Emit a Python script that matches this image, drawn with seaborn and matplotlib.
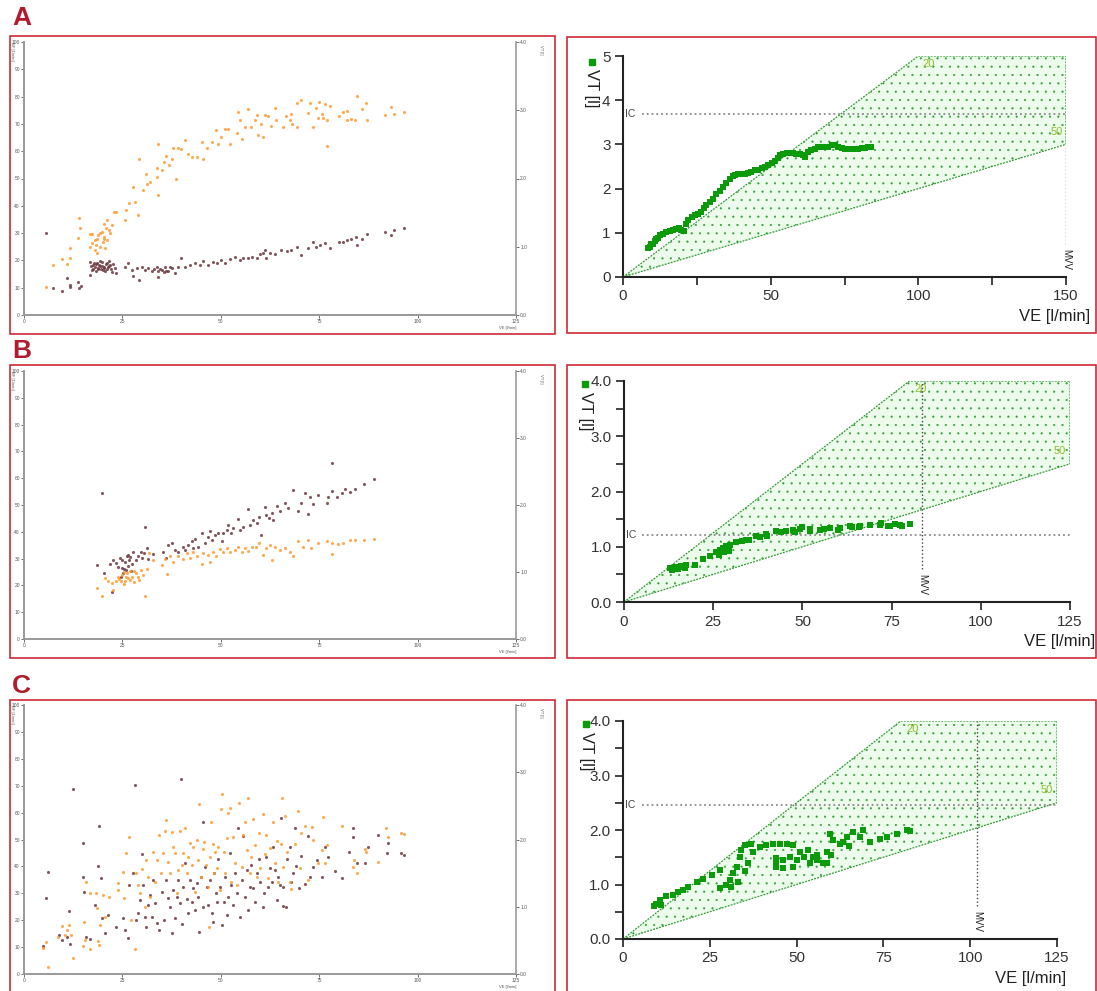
import matplotlib
matplotlib.use('Agg')
import matplotlib.pyplot as plt
import seaborn as sns
import pandas as pd
from matplotlib.patches import Rectangle, Polygon

sns.set_style('ticks')
plt.rcParams['font.family'] = ['Liberation Sans', 'DejaVu Sans']
plt.rcParams['hatch.linewidth'] = 0.3

# ---------------- data ----------------
# left panels: (VE, BF) dark points and (VE, VT*25) orange points (VT drawn on the 0-4 l twin axis)
a_bf = [(5.5,29.9),(7.3,10.0),(9.6,8.9),(10.8,13.7),(11.7,11.0),(11.8,10.4),(13.6,12.2),(14.0,9.8),(14.4,10.6),
        (16.8,19.5),(16.8,14.6),(17.2,16.5),(17.6,18.3),(18.0,17.4),(18.5,18.9),(18.9,16.7),(19.3,17.9),(19.7,19.5),
        (20.2,17.1),(20.6,16.2),(21.0,18.9),(21.4,17.4),(21.8,18.3),(22.3,15.9),(23.1,17.1),(23.5,15.5),(17.0,18.0),
        (17.5,17.0),(18.2,18.6),(18.7,17.2),(19.0,18.4),(19.5,16.9),(19.9,18.1),(20.4,17.6),(20.8,18.7),(21.2,16.8),
        (21.6,17.9),(22.0,17.0),(18.3,16.0),(19.2,19.8),(20.0,16.4),(21.5,19.6),(17.8,19.2),(22.5,18.5),
        (25.7,17.7),(26.5,18.9),(27.4,16.5),(27.8,14.3),(28.6,17.1),(29.3,13.0),(29.9,17.7),(30.7,16.5),(31.6,17.1),
        (32.4,16.2),(33.0,16.8),(33.7,17.4),(34.1,13.8),(34.5,16.9),(34.0,16.0),(35.0,16.5),(35.5,15.8),(35.8,17.7),
        (36.0,16.0),(36.7,16.2),(37.0,17.6),(37.5,17.1),(38.3,15.5),(39.2,17.4),(40.0,20.9),(40.9,17.7),(42.1,18.3),
        (43.4,18.9),(44.7,18.3),(45.6,19.9),(46.8,18.3),(48.1,19.5),(49.1,18.9),(50.0,20.1),(51.0,19.1),(52.3,20.6),
        (53.6,21.3),(54.9,20.1),(55.7,20.7),(57.0,21.0),(57.8,21.3),(59.1,20.7),(59.9,22.3),(60.6,22.8),(61.2,23.8),
        (61.6,20.7),(62.5,22.6),(63.7,22.3),(65.4,23.8),(66.7,23.5),(67.9,23.8),(69.4,25.0),(70.5,22.0),(72.2,24.6),
        (73.5,26.8),(74.3,25.0),(75.2,25.6),(76.5,26.2),(77.7,24.4),(80.0,26.8),(81.1,26.8),(82.1,27.4),(83.2,28.0),
        (84.4,28.7),(84.7,25.6),(86.0,28.0),(87.2,29.6),(91.7,30.5),(93.2,29.3),(94.1,31.1),(96.6,31.7)]
a_vt = [(5.5,10.4),(7.3,18.4),(9.6,20.4),(10.8,18.8),(11.7,20.9),(11.8,24.5),(13.6,28.3),(14.1,35.6),(14.3,31.8),
        (16.8,29.6),(16.8,25.0),(17.2,26.2),(18.0,27.4),(18.3,25.6),(18.6,28.0),(18.9,29.3),(19.3,25.0),(19.7,30.5),
        (20.0,26.8),(20.2,33.5),(20.4,28.7),(20.8,31.7),(21.0,34.8),(21.2,27.4),(21.5,31.1),(21.8,29.9),(22.3,32.9),
        (18.0,23.8),(18.6,22.6),(20.6,24.4),(17.2,29.6),(19.3,29.9),(20.2,28.0),(22.9,37.8),(23.5,37.8),(25.7,34.8),
        (26.0,38.4),(26.8,41.1),(27.8,47.0),(28.2,41.5),(29.2,57.3),(29.0,36.6),(30.3,45.7),(31.0,51.6),(31.3,47.9),
        (32.0,48.8),(33.7,50.6),(33.9,53.7),(34.1,43.9),(34.1,62.8),(35.0,53.0),(35.6,56.1),(36.2,58.2),(36.9,54.9),
        (37.5,57.3),(37.9,61.0),(38.6,50.0),(39.0,61.3),(40.0,60.7),(40.9,64.0),(41.7,59.1),(42.6,57.9),(43.9,57.9),
        (45.1,63.2),(45.6,57.3),(46.4,61.0),(47.7,63.4),(48.8,67.7),(49.4,62.8),(50.0,65.2),(51.0,68.3),(51.9,68.3),
        (52.3,62.8),(54.0,66.5),(54.4,74.4),(54.9,71.3),(55.3,64.6),(56.1,68.9),(56.8,75.6),(57.6,68.9),(58.7,71.3),
        (59.3,73.2),(59.5,65.9),(60.1,70.1),(60.7,65.2),(61.2,73.2),(62.0,72.8),(62.7,69.3),(63.7,75.9),(63.9,71.3),
        (65.7,68.9),(66.5,72.8),(67.5,71.3),(67.9,73.7),(68.2,69.8),(69.3,68.9),(69.4,77.8),(70.4,78.7),(72.2,74.0),
        (72.6,77.6),(73.5,68.9),(74.3,75.9),(74.8,72.3),(75.0,77.9),(75.6,73.7),(76.0,72.3),(76.5,77.3),(76.9,61.8),
        (76.9,71.3),(77.7,76.6),(80.0,72.8),(81.1,74.4),(82.1,74.6),(82.1,71.3),(83.0,71.9),(84.1,71.3),(84.7,80.1),
        (86.0,75.5),(86.9,77.8),(87.2,71.6),(91.7,73.4),(93.2,76.2),(94.1,73.8),(96.6,74.4)]

b_bf = [(19.7,54.6),(18.6,27.7),(20.4,24.8),(21.8,28.0),(22.3,17.4),(22.7,29.5),(23.5,28.3),(24.4,30.1),(24.8,26.4),
        (25.2,24.6),(25.7,28.9),(26.1,30.8),(26.5,27.1),(26.8,29.5),(27.1,25.2),(27.8,32.3),(28.5,29.5),(29.0,30.8),
        (29.6,32.6),(30.1,30.1),(30.6,32.0),(30.7,41.9),(31.2,33.9),(31.6,29.8),(32.9,31.8),(35.4,32.3),(36.2,30.1),
        (36.7,35.1),(37.5,35.7),(38.3,33.3),(39.2,32.3),(40.5,34.5),(40.9,33.3),(41.7,35.1),(42.6,36.4),(43.0,33.9),
        (43.4,37.2),(44.3,34.5),(45.1,39.5),(46.0,36.0),(46.8,38.2),(47.2,40.4),(47.7,37.0),(48.5,38.8),(49.4,39.5),
        (50.2,36.4),(50.6,39.7),(51.5,40.7),(51.9,42.6),(52.7,39.5),(53.2,41.4),(54.4,44.7),(54.9,40.7),(55.7,41.9),
        (57.0,48.4),(57.4,42.6),(58.3,44.4),(59.1,43.2),(59.8,45.7),(60.1,38.8),(61.2,49.2),(61.6,46.3),(62.3,45.1),
        (62.9,46.9),(63.3,44.4),(64.2,49.7),(65.0,47.6),(66.3,50.7),(67.2,48.8),(68.4,55.5),(69.7,47.6),(70.5,50.9),
        (71.4,54.4),(72.2,46.6),(72.6,53.1),(73.5,50.4),(74.8,53.7),(76.9,50.6),(77.3,53.1),(78.2,65.8),(78.2,55.3),
        (79.5,53.1),(80.7,54.6),(81.5,55.8),(82.8,55.0),(84.1,56.0),(86.4,57.7),(88.9,59.6),
        (24.0,27.0),(25.0,29.5),(26.0,25.8),(26.3,31.5),(27.5,28.0),(24.6,23.0),(25.5,26.0),(27.0,30.5)]
b_vt = [(18.6,19.0),(19.7,16.1),(20.6,22.7),(21.4,21.5),(22.3,20.8),(22.7,18.4),(23.4,21.8),(23.9,23.3),(24.6,21.5),
        (25.0,23.9),(25.7,21.8),(26.1,24.6),(26.5,22.7),(26.9,25.2),(27.4,23.3),(27.9,21.1),(28.5,24.6),(29.0,23.3),
        (29.6,25.8),(30.3,23.9),(30.8,15.9),(31.2,26.1),(31.8,32.0),(32.9,29.5),(35.0,27.7),(35.8,29.8),(36.4,24.2),
        (37.1,30.8),(37.9,28.9),(39.2,30.8),(40.5,29.8),(41.3,32.0),(42.1,30.1),(43.0,32.6),(43.9,30.8),(45.1,28.0),
        (45.6,32.0),(46.8,31.4),(47.2,28.9),(48.1,32.6),(48.9,30.8),(49.8,33.5),(50.6,32.6),(51.5,33.9),(52.3,32.3),
        (53.6,33.3),(54.4,34.5),(55.3,32.6),(56.1,33.9),(57.0,33.0),(57.8,34.3),(58.9,34.5),(59.8,35.7),(60.8,31.4),
        (61.6,33.9),(62.5,35.1),(62.9,29.3),(63.7,34.5),(65.0,33.3),(66.3,33.9),(67.5,32.6),(68.4,31.0),(69.7,36.4),
        (70.9,34.5),(72.2,37.0),(73.0,33.9),(74.8,35.7),(76.9,36.4),(78.2,31.8),(78.2,35.7),(79.9,35.5),(81.1,36.0),
        (82.8,37.0),(84.1,37.0),(86.4,37.0),(88.9,37.2),
        (24.2,22.5),(25.3,20.5),(26.0,23.0),(27.0,22.0),(28.0,25.5),(29.3,22.0),(25.5,25.0)]

c_bf = [(4.9,10.5),(5.6,28.4),(6.0,37.9),(8.9,14.5),(9.6,12.6),(10.8,13.6),(11.4,23.4),(11.7,11.2),(12.5,68.6),
        (14.9,48.7),(15.1,36.2),(15.3,30.6),(15.7,13.9),(16.8,12.9),(18.0,25.7),(18.9,40.1),(19.1,54.9),(19.5,35.6),
        (19.7,20.7),(20.6,15.1),(21.4,21.9),(23.4,17.6),(25.1,20.7),(25.7,16.4),(26.5,13.3),(26.8,33.1),(27.8,37.7),
        (28.2,70.4),(28.4,20.1),(29.0,22.6),(29.5,27.5),(29.9,44.6),(30.3,33.1),(30.7,21.3),(31.1,17.6),(31.6,25.7),
        (32.0,29.4),(32.4,21.3),(32.9,34.9),(33.3,26.3),(33.7,19.1),(34.4,16.4),(35.0,30.6),(35.6,20.1),(36.2,34.9),
        (36.7,28.1),(37.1,25.0),(37.5,15.1),(37.9,31.2),(38.4,20.7),(38.8,28.7),(39.2,34.9),(39.6,26.3),(39.8,72.5),
        (40.1,18.6),(40.5,32.5),(40.9,41.1),(41.3,27.8),(41.7,22.6),(42.2,34.9),(42.6,26.9),(43.0,31.8),(43.4,23.8),
        (43.9,33.9),(44.3,28.7),(44.5,15.7),(44.9,36.2),(45.4,56.4),(45.6,25.0),(46.0,39.9),(46.4,32.5),(46.8,25.7),
        (47.3,34.9),(47.7,22.6),(47.9,19.5),(48.3,37.4),(48.8,30.0),(49.1,26.9),(49.4,42.9),(49.8,32.5),(50.2,18.2),
        (50.7,26.9),(51.1,36.2),(51.5,21.9),(51.9,28.7),(52.3,44.9),(52.7,33.1),(53.2,25.7),(53.6,37.4),(54.0,30.0),
        (54.4,54.3),(54.9,21.3),(55.3,34.9),(55.7,51.4),(56.2,28.7),(56.6,38.7),(56.9,23.8),(57.4,32.5),(57.7,40.6),
        (58.3,31.8),(58.7,26.9),(59.1,37.4),(59.6,42.9),(60.0,34.3),(60.6,24.8),(61.0,30.0),(61.6,43.5),(62.0,32.5),
        (62.4,39.3),(62.9,34.3),(63.3,47.3),(63.7,38.7),(64.2,27.5),(64.6,36.2),(65.0,33.1),(65.4,57.9),(65.7,25.4),
        (65.9,32.5),(66.5,24.8),(66.9,42.6),(67.5,47.3),(67.9,34.3),(68.4,37.4),(68.8,54.4),(69.2,40.3),(69.9,31.8),
        (70.5,43.8),(71.4,33.5),(72.2,51.4),(72.7,36.2),(73.5,39.9),(74.4,42.4),(75.6,36.2),(76.5,47.3),(77.3,43.6),
        (79.0,38.4),(80.7,35.6),(82.6,45.5),(83.5,54.1),(83.6,51.0),(84.5,41.1),(86.6,41.4),(87.4,47.3),(90.0,51.7),
        (92.1,44.9),(92.5,48.8),(95.9,44.9),(96.5,44.2)]
c_vt = [(4.9,9.5),(5.6,12.0),(6.0,2.5),(8.7,13.6),(9.6,17.8),(10.4,14.5),(11.0,16.4),(11.4,18.2),(11.9,14.5),
        (12.5,5.8),(15.1,10.4),(15.2,19.5),(15.5,12.6),(15.7,34.3),(16.8,9.2),(16.8,30.0),(18.3,30.0),(18.6,24.4),
        (18.9,12.4),(19.1,10.8),(19.3,18.2),(20.0,29.4),(20.6,21.1),(21.7,28.6),(24.0,33.9),(23.9,31.2),(25.2,38.0),
        (25.4,28.1),(25.9,44.9),(26.8,51.0),(27.1,20.1),(28.2,9.2),(28.4,37.4),(29.0,33.1),(29.5,30.0),(30.1,38.9),
        (30.7,25.0),(31.1,42.4),(31.6,36.2),(32.0,28.7),(32.7,45.5),(33.3,34.3),(33.7,42.4),(34.4,51.7),(34.7,37.4),
        (35.4,44.9),(35.8,53.0),(36.2,57.3),(36.7,41.8),(37.1,37.4),(37.5,52.7),(37.9,47.1),(38.4,44.9),(38.8,30.0),
        (39.2,38.7),(39.6,53.3),(40.1,40.6),(40.5,44.9),(40.9,54.3),(41.3,37.4),(41.7,43.6),(42.2,48.6),(42.6,40.6),
        (43.0,47.3),(43.4,30.6),(43.9,49.8),(44.3,42.4),(44.5,63.2),(44.9,36.2),(45.4,46.3),(45.8,49.1),(46.2,40.6),
        (46.7,32.5),(46.9,17.3),(47.3,43.6),(47.5,56.6),(47.9,48.3),(48.3,37.4),(48.6,45.2),(49.0,39.5),(49.4,47.3),
        (49.8,31.2),(50.1,61.2),(50.3,66.8),(50.7,45.2),(51.1,37.4),(51.5,50.6),(51.9,59.7),(52.3,61.6),(52.7,34.3),
        (53.0,50.9),(53.6,41.1),(54.0,33.1),(54.7,63.7),(55.3,39.9),(55.7,51.7),(56.2,56.6),(56.6,46.1),(56.9,65.4),
        (57.4,37.6),(57.7,43.5),(58.2,57.5),(58.7,48.0),(59.1,36.2),(59.6,52.6),(60.0,39.3),(60.6,59.4),(61.2,44.6),
        (61.6,51.7),(62.0,35.6),(62.4,46.8),(63.3,56.6),(63.7,41.3),(64.2,49.6),(64.6,34.3),(65.2,48.3),(65.6,65.3),
        (65.9,39.9),(66.3,58.6),(66.8,45.2),(67.5,34.3),(67.9,31.5),(68.8,48.3),(69.7,60.7),(70.1,39.3),(70.5,52.3),
        (71.4,55.0),(72.2,34.9),(73.1,54.6),(73.5,49.8),(74.8,41.1),(75.6,46.1),(75.9,58.5),(76.5,41.1),(76.9,48.0),
        (80.7,55.0),(83.6,39.6),(83.8,42.4),(84.5,37.4),(86.6,46.5),(87.0,45.5),(90.0,41.8),(91.9,54.4),(92.5,50.8),
        (95.9,52.3),(96.5,51.9)]

# right panels: (VE, VT)
a_loop = [(8.5,0.66),(9.0,0.69),(9.6,0.74),(10.2,0.75),(10.7,0.81),(11.3,0.85),(11.9,0.89),(12.4,0.94),(13.6,0.98),
          (14.7,1.01),(15.8,1.04),(16.9,1.07),(18.1,1.09),(19.0,1.10),(19.8,1.07),(20.6,1.03),(21.2,1.21),(22.0,1.30),
          (23.2,1.36),(24.3,1.40),(25.4,1.43),(26.5,1.47),(27.3,1.55),(28.2,1.62),(29.4,1.70),(30.5,1.77),(31.6,1.87),
          (32.8,1.95),(33.9,2.04),(35.0,2.13),(36.2,2.21),(37.1,2.28),(37.8,2.30),(39.0,2.32),(40.1,2.34),(41.2,2.34),
          (42.4,2.36),(43.5,2.38),(44.6,2.41),(45.8,2.43),(46.9,2.47),(48.0,2.50),(49.1,2.54),(50.3,2.58),(51.4,2.62),
          (52.5,2.69),(53.3,2.75),(54.2,2.79),(55.4,2.81),(56.5,2.81),(57.6,2.80),(58.7,2.79),(59.9,2.79),(61.0,2.75),
          (61.6,2.72),(62.7,2.83),(63.8,2.88),(65.0,2.90),(66.1,2.93),(67.2,2.93),(68.3,2.94),(69.5,2.95),(70.6,2.98),
          (71.7,2.98),(72.9,2.94),(74.0,2.91),(75.1,2.90),(76.3,2.89),(77.4,2.89),(78.5,2.90),(79.6,2.90),(80.8,2.91),
          (81.9,2.92),(83.0,2.93),(83.9,2.93)]
b_loop = [(12.8,0.61),(13.5,0.58),(14.2,0.64),(15.0,0.60),(15.6,0.64),(16.0,0.66),(17.0,0.62),(17.5,0.67),(19.8,0.67),
          (22.2,0.77),(24.0,0.83),(25.9,0.90),(26.5,0.85),(27.0,0.95),(27.8,0.98),(28.0,0.90),(28.7,1.01),(29.0,0.97),
          (29.5,0.92),(29.7,1.04),(31.5,1.08),(33.0,1.10),(34.3,1.13),(35.0,1.12),(37.1,1.20),(38.0,1.18),(39.9,1.23),
          (40.0,1.20),(42.7,1.28),(44.0,1.26),(45.4,1.29),(47.4,1.31),(48.0,1.27),(49.3,1.32),(50.0,1.35),(52.0,1.29),
          (52.1,1.32),(54.9,1.31),(56.0,1.33),(57.7,1.34),(60.0,1.31),(60.5,1.34),(63.3,1.37),(64.0,1.35),(66.0,1.36),
          (66.1,1.38),(68.9,1.40),(69.0,1.39),(71.7,1.40),(72.0,1.43),(74.0,1.37),(74.5,1.38),(76.0,1.41),(77.3,1.40),
          (78.0,1.38),(80.1,1.42)]
c_loop = [(9.6,0.65),(10.6,0.71),(9.0,0.60),(11.0,0.62),(12.5,0.78),(14.4,0.81),(15.9,0.87),(17.3,0.90),(18.8,0.96),
          (21.2,1.05),(23.1,1.11),(25.5,1.17),(27.9,1.26),(27.9,0.93),(29.8,0.99),(30.8,1.08),(31.7,1.21),(32.7,1.33),
          (33.7,1.51),(34.1,1.63),(35.1,1.72),(36.1,1.39),(37.0,1.75),(37.5,1.60),(39.4,1.69),(41.3,1.72),(43.3,1.75),
          (45.2,1.75),(47.1,1.75),(49.0,1.72),(44.2,1.39),(46.2,1.45),(48.1,1.51),(50.0,1.45),(52.0,1.51),(53.9,1.39),
          (55.8,1.54),(57.7,1.39),(58.7,1.60),(59.6,1.93),(60.6,1.81),(62.5,1.75),(64.4,1.87),(66.3,1.96),(68.3,1.87),
          (69.2,2.00),(71.2,1.78),(74.0,1.84),(76.0,1.87),(78.8,1.93),(81.7,2.00),(82.7,1.98),(44.2,1.33),(49.0,1.33),
          (54.8,1.51),(58.7,1.39),(44.2,1.48),(51.0,1.60),(53.4,1.63),(63.5,1.78),(35.0,1.25),(33.0,1.05),(31.0,0.95),
          (46.0,1.30),(56.0,1.45),(60.0,1.55),(65.0,1.70)]

# reference lines per panel: IC level [l], MVV [l/min], axis maxima
ic_levels = [3.68, 1.22, 2.45]
mvv_values = [150, 83.5, 102]
ve_max = [150, 125, 125]
vt_max = [5, 4, 4]

ORANGE = '#ff9a33'
DARK = '#6e3b3f'
GREEN = '#0a9a0a'
RED = '#cc2a36'

fig = plt.figure(figsize=(10.97, 9.91), dpi=100)
W, H = 1097.0, 991.0


def fbox(x0, y0, x1, y1):
    return [x0 / W, 1 - y1 / H, (x1 - x0) / W, (y1 - y0) / H]


def left_panel(box, bf, vt):
    ax = fig.add_axes(fbox(*box))
    bf_df = pd.DataFrame(bf, columns=['VE', 'BF'])
    sns.scatterplot(data=bf_df, x='VE', y='BF', ax=ax, color=DARK, s=5, linewidth=0, alpha=0.85)
    ax.set_xlim(0, 125)
    ax.set_ylim(0, 100)
    ax.set_xticks(range(0, 126, 25))
    ax.set_yticks(range(0, 101, 10))
    ax2 = ax.twinx()
    vt_df = pd.DataFrame(vt, columns=['VE', 'VT'])
    vt_df['VT'] = vt_df['VT'] / 25.0
    sns.scatterplot(data=vt_df, x='VE', y='VT', ax=ax2, color=ORANGE, s=5, linewidth=0, alpha=0.85)
    ax2.set_ylim(0, 4)
    ax2.set_yticks([0, 1, 2, 3, 4])
    ax2.set_yticklabels(['0.0', '1.0', '2.0', '3.0', '4.0'])
    for a in (ax, ax2):
        a.set_xlabel('')
        a.set_ylabel('')
        a.tick_params(labelsize=3.5, length=2, width=0.6, colors='#555555', pad=1)
        for s in a.spines.values():
            s.set_color('#999999')
            s.set_linewidth(1.2)
        a.spines['top'].set_visible(False)
    ax.spines['right'].set_visible(False)
    ax.text(-0.025, 1.0, 'BF [1/min]', transform=ax.transAxes, rotation=270, fontsize=3,
            va='top', ha='center', color='#555555')
    ax2.text(1.05, 0.99, 'VT [l]', transform=ax2.transAxes, rotation=270, fontsize=3,
             va='top', ha='center', color='#555555')
    ax.text(1.0, -0.04, 'VE [l/min]', transform=ax.transAxes, fontsize=3, ha='right', va='top',
            color='#555555')


def right_panel(box, loop, ic, mvv, xmax, ymax, xticks, xlabels, yticks, ylabels, minor_y,
                lab_x, lab_y, ve_x, ic_start):
    ax = fig.add_axes(fbox(*box))
    poly = [(0, 0), (ymax * 20, ymax), (xmax, ymax), (xmax, xmax / 50.0)]
    ax.add_patch(Polygon(poly, closed=True, facecolor='#ecfbec', edgecolor='#2e9e2e',
                         hatch='..', linewidth=0, zorder=1))
    ax.plot([0, ymax * 20, xmax, xmax, 0], [0, ymax, ymax, xmax / 50.0, 0], ls=(0, (1.5, 1)), lw=0.9,
            color='#2f9a2f', zorder=2)
    ax.text(ymax * 20 + 1.5, ymax * 0.965, '20', color='#8fbf2a', fontsize=8, va='center', ha='left')
    ax.text(xmax - 1.2, xmax / 50.0 + ymax * 0.035, '50', color='#8fbf2a', fontsize=8, va='bottom',
            ha='right')
    ax.hlines(ic, ic_start, xmax, colors='#8a8a8a', linestyles=':', lw=1.3, zorder=3)
    ax.text(0.6, ic, 'IC', fontsize=7.5, color='#444444', va='center', ha='left')
    ax.vlines(mvv, 0.6 * ymax / 4, ymax if mvv < xmax else xmax / 50.0, colors='#444444',
              linestyles=':', lw=1.0, zorder=3)
    ax.text(mvv, 0.03 * ymax, 'MVV', rotation=270, fontsize=7, va='bottom', ha='center', color='#222222')
    df = pd.DataFrame(loop, columns=['VE', 'VT'])
    sns.scatterplot(data=df, x='VE', y='VT', ax=ax, color=GREEN, marker='s', s=15, linewidth=0, zorder=4)
    ax.set_xlim(0, xmax)
    ax.set_ylim(0, ymax)
    ax.set_xticks(xticks)
    ax.set_xticklabels(xlabels)
    ax.set_yticks(yticks)
    ax.set_yticklabels(ylabels)
    if minor_y:
        ax.set_yticks(minor_y, minor=True)
    ax.set_xlabel('')
    ax.set_ylabel('')
    ax.tick_params(labelsize=11, length=6, width=1.2, colors='#222222', labelcolor='#333333', pad=3)
    ax.tick_params(which='minor', length=6, width=1.2, colors='#222222')
    for s in ['top', 'right']:
        ax.spines[s].set_visible(False)
    for s in ['left', 'bottom']:
        ax.spines[s].set_linewidth(1.5)
        ax.spines[s].set_color('#222222')
    ax.text(lab_x, lab_y, 'VT [l]', transform=ax.transAxes, rotation=270, fontsize=12,
            va='top', ha='center', color='#222222')
    ax.plot([lab_x], [lab_y + 0.035], marker='s', ms=4.5, color=GREEN, transform=ax.transAxes,
            clip_on=False)
    ax.text(ve_x, -0.145, 'VE [l/min]', transform=ax.transAxes, fontsize=12, ha='right', va='top',
            color='#222222')


left_panel((24, 42, 516, 315), a_bf, a_vt)
left_panel((24, 371, 516, 639), b_bf, b_vt)
left_panel((24, 705, 516, 974), c_bf, c_vt)

right_panel((623, 56, 1066, 277), a_loop, ic_levels[0], mvv_values[0], ve_max[0], vt_max[0],
            [0, 25, 50, 75, 100, 125, 150], ['0', '', '50', '', '100', '', '150'],
            [0, 1, 2, 3, 4, 5], ['0', '1', '2', '3', '4', '5'], None, -0.07, 0.94, 1.055, 6.5)
right_panel((624, 381, 1070, 602), b_loop, ic_levels[1], mvv_values[1], ve_max[1], vt_max[1],
            [0, 25, 50, 75, 100, 125], ['0', '25', '50', '75', '100', '125'],
            [0, 1, 2, 3, 4], ['0.0', '1.0', '2.0', '3.0', '4.0'], [0.5, 1.5, 2.5, 3.5],
            -0.087, 0.95, 1.056, 5)
right_panel((623, 721, 1057, 939), c_loop, ic_levels[2], mvv_values[2], ve_max[2], vt_max[2],
            [0, 25, 50, 75, 100, 125], ['0', '25', '50', '75', '100', '125'],
            [0, 1, 2, 3, 4], ['0.0', '1.0', '2.0', '3.0', '4.0'], [0.5, 1.5, 2.5, 3.5],
            -0.085, 0.95, 1.02, 5.5)

# red frames around the six panels
frames = [(10, 36, 555, 334), (567, 37, 1096, 333), (10, 365, 555, 658), (567, 365, 1096, 658),
          (10, 700, 555, 993), (567, 700, 1096, 993)]
for x0, y0, x1, y1 in frames:
    fig.add_artist(Rectangle((x0 / W, 1 - y1 / H), (x1 - x0) / W, (y1 - y0) / H,
                             transform=fig.transFigure, fill=False, edgecolor=RED, lw=1.2))

for letter, y in zip(['A', 'B', 'C'], [18, 351, 686]):
    fig.text(12 / W, 1 - y / H, letter, fontsize=19, fontweight='bold', color='#b01c2e',
             va='center', ha='left')

fig.savefig('out.png', dpi=100)
